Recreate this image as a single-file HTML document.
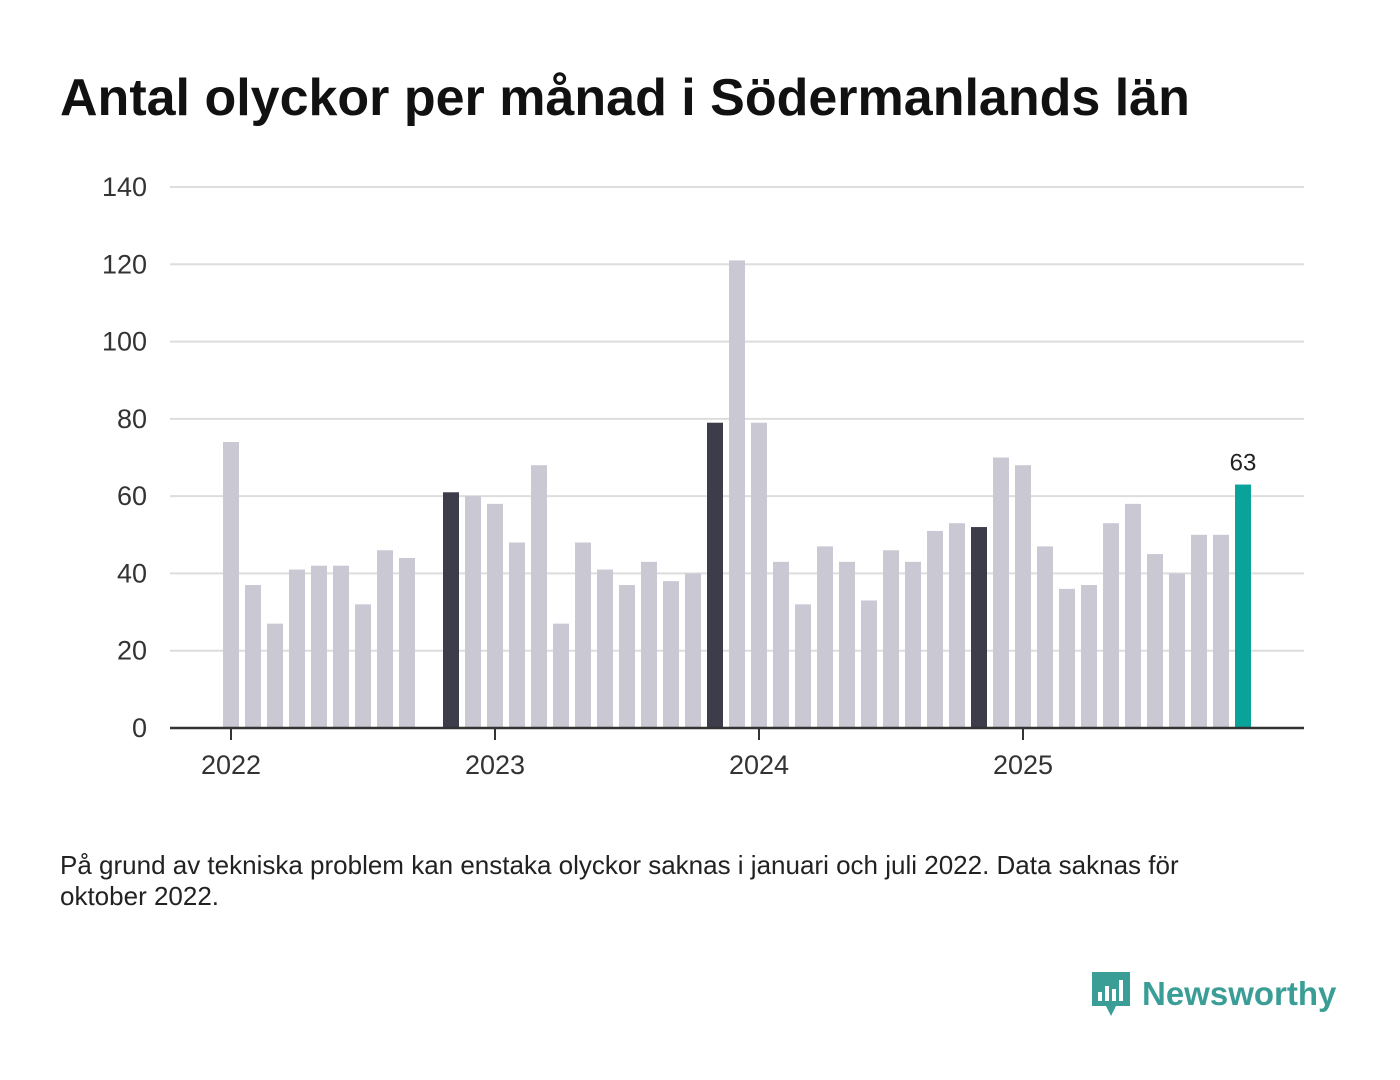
<!DOCTYPE html>
<html><head><meta charset="utf-8"><style>
body{margin:0;width:1400px;height:1080px;background:#fff;font-family:"Liberation Sans",sans-serif;overflow:hidden}
#title{position:absolute;left:60px;top:68px;font-size:52px;font-weight:bold;color:#111;margin:0}
#note{position:absolute;left:60px;top:850px;font-size:26px;color:#222;line-height:31px;width:1190px}
#logo{position:absolute;left:1090px;top:970px;display:flex;align-items:center}
#logo span{font-size:33px;font-weight:bold;color:#3a9e96;margin-left:10px}
</style></head><body>
<h1 id="title">Antal olyckor per månad i Södermanlands län</h1>
<svg id="chart" width="1400" height="1080" style="position:absolute;left:0;top:0"></svg>
<div id="note">På grund av tekniska problem kan enstaka olyckor saknas i januari och juli 2022. Data saknas för oktober 2022.</div>
<div id="logo">
<svg width="42" height="48" viewBox="0 0 42 48"><path d="M2 2h38v34h-14l-5 10-5-10H2z" fill="#3a9e96"/><rect x="8" y="22" width="4" height="9" fill="#fff"/><rect x="15" y="16" width="4" height="15" fill="#fff"/><rect x="22" y="19" width="4" height="12" fill="#fff"/><rect x="29" y="10" width="4" height="21" fill="#fff"/></svg>
<span>Newsworthy</span></div>
<script>
const values=[74,37,27,41,42,42,32,46,44,null,61,60,58,48,68,27,48,41,37,43,38,40,79,121,79,43,32,47,43,33,46,43,51,53,52,70,68,47,36,37,53,58,45,40,50,50,63];
const darkIdx=[10,22,34];
const yTicks=[0,20,40,60,80,100,120,140];
const yearLabels=["2022","2023","2024","2025"];
const yearIdx=[0,12,24,36];
const NS="http://www.w3.org/2000/svg";
const svg=document.getElementById('chart');
const x=i=>231+i*22;
const y=v=>728-v*(541/140);
function mk(t,a){const e=document.createElementNS(NS,t);for(const k in a)e.setAttribute(k,a[k]);svg.appendChild(e);return e;}
yTicks.forEach(t=>{
 if(t>0){const l=mk('line',{x1:170,x2:1304,y1:y(t),y2:y(t),stroke:'#ddd','stroke-width':2});
 
 }
 const tx=mk('text',{x:147,y:y(t)+9,'text-anchor':'end','font-size':27,fill:'#333','font-family':'Liberation Sans'});tx.textContent=t;
 
 
});
values.forEach((v,i)=>{
 if(v==null)return;
 const last=i===values.length-1;
 const c=last?'#0aa39a':(darkIdx.includes(i)?'#3d3c4a':'#c9c8d3');
 const r=mk('rect',{x:x(i)-8,y:y(v),width:16,height:728-y(v),fill:c});
 
 
 if(last){const t=mk('text',{x:x(i),y:y(v)-14,'text-anchor':'middle','font-size':24,fill:'#222','font-family':'Liberation Sans'});t.textContent=v;
 
 }
});
const ax=mk('line',{x1:170,x2:1304,y1:728,y2:728,stroke:'#333','stroke-width':2.5});


yearLabels.forEach((lab,k)=>{
 const xi=x(yearIdx[k]);
 const tk=mk('line',{x1:xi,x2:xi,y1:728,y2:740,stroke:'#333','stroke-width':2});
 
 
 const t=mk('text',{x:xi,y:774,'text-anchor':'middle','font-size':27,fill:'#333','font-family':'Liberation Sans'});t.textContent=lab;
 
 
});
</script>
</body></html>
